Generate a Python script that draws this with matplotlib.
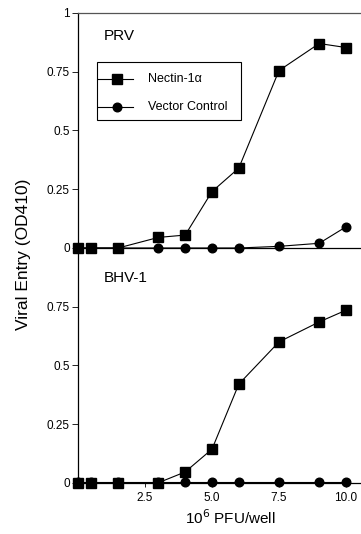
import matplotlib
matplotlib.use("Agg")
import matplotlib.pyplot as plt
from matplotlib.lines import Line2D
from matplotlib.patches import Rectangle

plt.rcParams['font.family'] = ['Liberation Sans', 'DejaVu Sans']

pfu = [0, 0.5, 1.5, 3.0, 4.0, 5.0, 6.0, 7.5, 9.0, 10.0]
prv_nectin = [0, 0, 0, 0.045, 0.055, 0.24, 0.34, 0.755, 0.87, 0.853]
prv_vector = [0, 0, 0, 0, 0, 0, 0, 0.007, 0.02, 0.09]
bhv_nectin = [0, 0, 0, 0, 0.046, 0.143, 0.42, 0.60, 0.685, 0.735]
bhv_vector = [0.004, 0.004, 0.004, 0.004, 0.004, 0.004, 0.004, 0.004, 0.004, 0.004]
yticks_top = [0, 0.25, 0.5, 0.75, 1]
yticklabels_top = ['0', '0.25', '0.5', '0.75', '1']
yticks_bot = [0, 0.25, 0.5, 0.75]
yticklabels_bot = ['0', '0.25', '0.5', '0.75']
xticks = [2.5, 5.0, 7.5, 10.0]
xticklabels = ['2.5', '5.0', '7.5', '10.0']
legend_labels = ['Nectin-1α', 'Vector Control']

fig = plt.figure(figsize=(3.61, 5.34), dpi=100)
left = 78 / 361
ax1 = fig.add_axes([left, 0.5356, 1 - left, 0.4401])
ax2 = fig.add_axes([left, 0.096, 1 - left, 0.4396])

lw = 0.8
for ax, nec, vec, name, yt, ytl in [
    (ax1, prv_nectin, prv_vector, 'PRV', yticks_top, yticklabels_top),
    (ax2, bhv_nectin, bhv_vector, 'BHV-1', yticks_bot, yticklabels_bot),
]:
    ax.plot(pfu, vec, color='black', lw=lw, marker='o', ms=6.2, clip_on=False, zorder=3)
    ax.plot(pfu, nec, color='black', lw=lw, marker='s', ms=7, clip_on=False, zorder=4)
    ax.set_xlim(0, 10.56)
    ax.set_ylim(0, 1)
    ax.set_yticks(yt)
    ax.set_yticklabels(ytl)
    ax.spines['right'].set_visible(False)
    for s in ax.spines.values():
        s.set_linewidth(0.9)
    ax.tick_params(axis='y', direction='out', length=4, width=0.6, labelsize=8.5, pad=2)
    ax.text(0.09, 0.93 if ax is ax1 else 0.90, name, transform=ax.transAxes,
            fontsize=11, va='top', ha='left')
    ax.patch.set_visible(False)

ax1.spines['top'].set_color('#555555')
ax1.set_xticks([])
ax2.spines['top'].set_visible(False)
ax2.set_xticks(xticks)
ax2.set_xticklabels(xticklabels)
ax2.tick_params(axis='x', direction='out', length=3, width=0.6, labelsize=8.5, pad=4)

# manual legend box
ax1.add_patch(Rectangle((0.067, 0.545), 0.509, 0.246, transform=ax1.transAxes,
                        fill=False, edgecolor='black', lw=0.8, zorder=5))
for yrow, mk, ms, lab in [(0.719, 's', 7, legend_labels[0]), (0.600, 'o', 6.2, legend_labels[1])]:
    ax1.add_line(Line2D([0.071, 0.194], [yrow, yrow], transform=ax1.transAxes,
                        color='black', lw=lw, zorder=6))
    ax1.add_line(Line2D([0.138], [yrow], transform=ax1.transAxes, color='black',
                        marker=mk, ms=ms, lw=0, zorder=6))
    ax1.text(0.247, yrow, lab, transform=ax1.transAxes, fontsize=9,
             va='center', ha='left', zorder=6)

fig.text(0.066, 0.524, 'Viral Entry (OD410)', rotation=90, fontsize=12.5,
         ha='center', va='center')
fig.text(0.637, 0.03, '10$^{6}$ PFU/well', fontsize=11, ha='center', va='center')

fig.savefig('out.png', dpi=100)
